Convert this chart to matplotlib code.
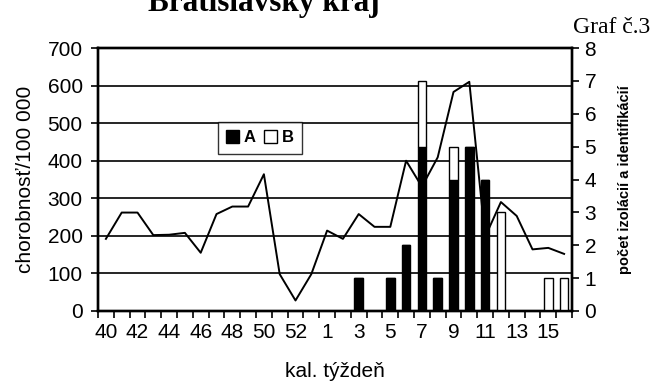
import matplotlib
matplotlib.use("Agg")
import matplotlib.pyplot as plt
from matplotlib.patches import Patch
import numpy as np

# Calendar weeks (season 2009/2010)
weeks = [40, 41, 42, 43, 44, 45, 46, 47, 48, 49, 50, 51, 52, 53,
         1, 2, 3, 4, 5, 6, 7, 8, 9, 10, 11, 12, 13, 14, 15, 16]

# Morbidity per 100 000 inhabitants
morbidity = [192, 262, 262, 202, 203, 208, 155, 258, 278, 278, 364, 98, 28, 98,
             214, 192, 258, 224, 224, 400, 331, 409, 583, 610, 197, 290, 253, 164, 168, 152]

# Number of isolations / identifications
count_a = [0, 0, 0, 0, 0, 0, 0, 0, 0, 0, 0, 0, 0, 0,
           0, 0, 1, 0, 1, 2, 5, 1, 4, 5, 4, 0, 0, 0, 0, 0]
count_b = [0, 0, 0, 0, 0, 0, 0, 0, 0, 0, 0, 0, 0, 0,
           0, 0, 0, 0, 0, 0, 2, 0, 1, 0, 0, 3, 0, 0, 1, 1]

left_ticks = [0, 100, 200, 300, 400, 500, 600, 700]
right_ticks = [0, 1, 2, 3, 4, 5, 6, 7, 8]

sans = "Liberation Sans"
serif = "Liberation Serif"
plt.rcParams["font.family"] = sans

fig = plt.figure(figsize=(6.53, 3.86), dpi=100)
ax = fig.add_axes([98 / 653, 1 - 311 / 386, (572 - 98) / 653, (311 - 48) / 386])
ax2 = ax.twinx()
ax3 = ax.twinx()

x = np.arange(len(weeks))

# Left axis: grid and ticks
ax.set_xlim(-0.5, len(weeks) - 0.5)
ax.set_ylim(0, 700)
ax.set_yticks(left_ticks)
ax.tick_params(axis="y", labelsize=15, length=5, width=1.2, direction="out", pad=6)
ax.yaxis.grid(True, color="black", linewidth=1.2)
ax.set_axisbelow(True)

# Category boundaries carry the tick marks, labels sit at centres
ax.set_xticks(np.arange(-0.5, len(weeks), 1.0))
ax.set_xticklabels([])
ax.tick_params(axis="x", length=5, width=1.2, direction="out")
ax.set_xticks(x[::2], minor=True)
ax.set_xticklabels([str(w) for w in weeks[::2]], minor=True, fontsize=15)
ax.tick_params(axis="x", which="minor", length=0, pad=9)

ax.set_ylabel("chorobnosť/100 000", fontsize=15, labelpad=9)
ax.set_xlabel("kal. týždeň", fontsize=15, labelpad=14)

for s in ax.spines.values():
    s.set_linewidth(1.7)

# Right axis: stacked bars
bw = 0.55
ax2.bar(x, count_a, width=bw, color="black", edgecolor="black", linewidth=1.0)
ax2.bar(x, count_b, width=bw, bottom=count_a, color="white", edgecolor="black", linewidth=1.0)
ax2.set_ylim(0, 8)
ax2.set_yticks(right_ticks)
ax2.tick_params(axis="y", labelsize=15, length=5, width=1.2, direction="out", pad=4)
ax2.set_ylabel("počet izolácií a identifikácií", fontsize=10.5, fontweight="bold", labelpad=16)
for s in ax2.spines.values():
    s.set_linewidth(1.7)

# Morbidity line on top
ax3.plot(x, morbidity, color="black", linewidth=1.4)
ax3.set_ylim(0, 700)
ax3.axis("off")

handles = [Patch(facecolor="black", edgecolor="black", label="A"),
           Patch(facecolor="white", edgecolor="black", label="B")]
leg = ax3.legend(handles=handles, ncol=2, loc="upper left",
                 bbox_to_anchor=(218 / 653, 1 - 122 / 386), bbox_transform=fig.transFigure,
                 frameon=True, fancybox=False, shadow=False,
                 prop={"family": sans, "weight": "bold", "size": 12},
                 handlelength=0.75, handleheight=0.75, handletextpad=0.3,
                 columnspacing=0.5, borderpad=0.5, borderaxespad=0)
leg.get_frame().set_edgecolor("black")
leg.get_frame().set_linewidth(1.0)

fig.text(264 / 653, 1 - 11 / 386, "Bratislavský kraj", family=serif, fontweight="bold",
         fontsize=22.5, ha="center", va="baseline")
fig.text(650 / 653, 1 - 33 / 386, "Graf č.3", family=serif, fontsize=17,
         ha="right", va="baseline")

fig.savefig("out.png", dpi=100)
